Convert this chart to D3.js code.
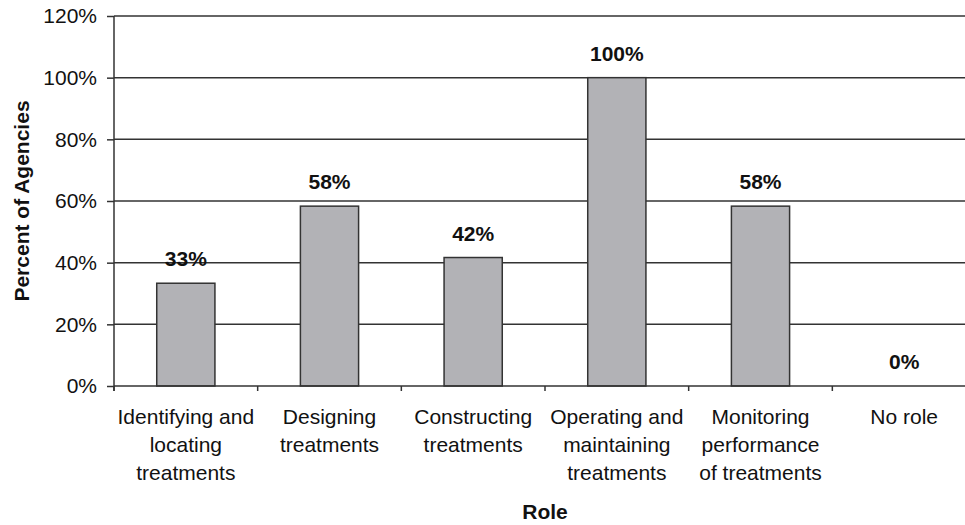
<!DOCTYPE html>
<html>
<head>
  <meta charset="utf-8">
  <script src="https://d3js.org/d3.v7.min.js"></script>
  <style>
    body { margin:0; background:#fff; }
    svg { display:block; font-family:"Liberation Sans", Arial, sans-serif; }
    .axis path, .axis line { stroke:#333; stroke-width:1.5; }
    .axis text { font-size:21px; fill:#111; }
  </style>
</head>
<body>
<script>
  // roles, each label split over lines
  const roles = [
    ["Identifying and", "locating", "treatments"],
    ["Designing", "treatments"],
    ["Constructing", "treatments"],
    ["Operating and", "maintaining", "treatments"],
    ["Monitoring", "performance", "of treatments"],
    ["No role"]
  ];
  // share of 12 agencies
  const percents = [33.33, 58.33, 41.67, 100, 58.33, 0];
  const yTicks = [0, 20, 40, 60, 80, 100, 120];

  const width = 965, height = 525;
  const margin = { top: 16, left: 114, right: -11, bottom: 139 };
  const innerW = width - margin.left - margin.right;
  const innerH = height - margin.top - margin.bottom;

  const svg = d3.select("body").append("svg")
    .attr("width", width)
    .attr("height", height);

  const g = svg.append("g")
    .attr("transform", `translate(${margin.left},${margin.top})`);

  const x = d3.scaleBand()
    .domain(d3.range(roles.length))
    .range([0, innerW])
    .paddingInner(0.595)
    .paddingOuter(0.2975);
  const step = x.step();

  const y = d3.scaleLinear().domain([0, 120]).range([innerH, 0]);

  // gridlines
  g.append("g").selectAll("line")
    .data(yTicks.slice(1))
    .enter().append("line")
    .attr("x1", 0).attr("x2", innerW)
    .attr("y1", d => y(d)).attr("y2", d => y(d))
    .attr("stroke", "#333").attr("stroke-width", 1.5);

  // bars
  g.append("g").selectAll("rect")
    .data(percents)
    .enter().append("rect")
    .attr("x", (d, i) => x(i))
    .attr("y", d => y(d))
    .attr("width", x.bandwidth())
    .attr("height", d => innerH - y(d))
    .attr("fill", "#b2b2b6")
    .attr("stroke", d => d > 0 ? "#333" : "none")
    .attr("stroke-width", 1.5);

  // value labels
  g.append("g").selectAll("text")
    .data(percents)
    .enter().append("text")
    .attr("x", (d, i) => x(i) + x.bandwidth() / 2)
    .attr("y", d => y(d) - 17)
    .attr("text-anchor", "middle")
    .style("font-size", "21px")
    .style("font-weight", "bold")
    .attr("fill", "#111")
    .text(d => Math.round(d) + "%");

  // y axis
  const yAxis = d3.axisLeft(y)
    .tickValues(yTicks)
    .tickSize(7)
    .tickPadding(10)
    .tickFormat(d => d + "%");
  g.append("g").attr("class", "axis").call(yAxis)
    .call(s => s.select(".domain").attr("d", `M0,${innerH + 5}V0`));

  // x axis: baseline plus ticks at category boundaries
  const xa = g.append("g").attr("class", "axis")
    .attr("transform", `translate(0,${innerH})`);
  xa.append("line").attr("x1", 0).attr("x2", innerW).attr("y1", 0).attr("y2", 0);
  xa.selectAll("line.tk")
    .data(d3.range(roles.length + 1))
    .enter().append("line").attr("class", "tk")
    .attr("x1", d => d * step).attr("x2", d => d * step)
    .attr("y1", 0).attr("y2", 5);

  const labels = xa.selectAll("text.cat")
    .data(roles)
    .enter().append("text").attr("class", "cat")
    .attr("text-anchor", "middle")
    .attr("transform", (d, i) => `translate(${x(i) + x.bandwidth() / 2},38)`);
  labels.selectAll("tspan")
    .data(d => d)
    .enter().append("tspan")
    .attr("x", 0)
    .attr("y", (d, i) => i * 28)
    .text(d => d);

  // axis titles
  svg.append("text")
    .attr("x", margin.left + innerW / 2)
    .attr("y", 519)
    .attr("text-anchor", "middle")
    .style("font-size", "21px")
    .style("font-weight", "bold")
    .attr("fill", "#111")
    .text("Role");

  svg.append("text")
    .attr("transform", `translate(29,${margin.top + innerH / 2}) rotate(-90)`)
    .attr("text-anchor", "middle")
    .style("font-size", "21px")
    .style("font-weight", "bold")
    .attr("fill", "#111")
    .text("Percent of Agencies");
</script>
</body>
</html>
